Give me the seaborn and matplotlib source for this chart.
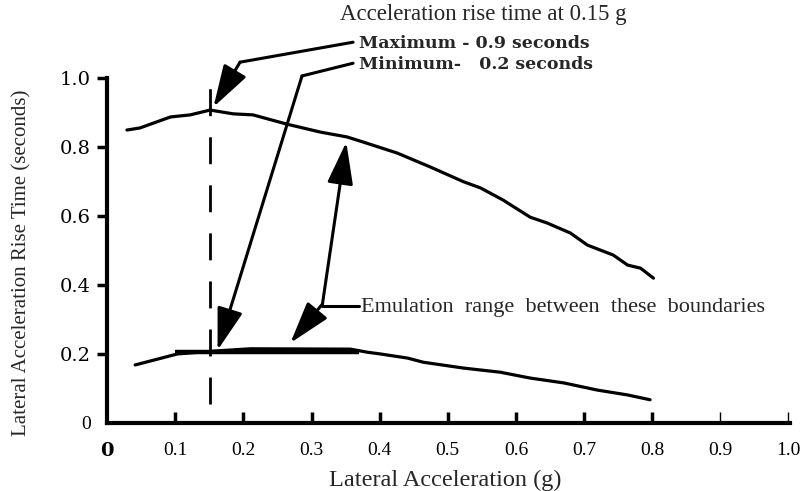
import matplotlib
matplotlib.use("Agg")
import matplotlib.pyplot as plt
import seaborn as sns
import pandas as pd

# ---- data ----
upper_x = [0.029, 0.048, 0.093, 0.122, 0.151, 0.185, 0.214, 0.264, 0.313, 0.352, 0.376, 0.426,
           0.474, 0.523, 0.548, 0.581, 0.621, 0.646, 0.680, 0.705, 0.743, 0.764, 0.783, 0.802]
upper_y = [0.849, 0.855, 0.887, 0.893, 0.907, 0.896, 0.893, 0.866, 0.843, 0.829, 0.814, 0.782,
           0.742, 0.699, 0.681, 0.646, 0.596, 0.579, 0.550, 0.515, 0.486, 0.457, 0.448, 0.419]

lower_x = [0.041, 0.103, 0.162, 0.21, 0.357, 0.382, 0.401, 0.441, 0.464, 0.523, 0.577, 0.621,
           0.670, 0.720, 0.764, 0.797]
lower_y = [0.167, 0.199, 0.208, 0.214, 0.213, 0.204, 0.199, 0.187, 0.175, 0.158, 0.146, 0.129,
           0.115, 0.094, 0.08, 0.066]

band_x = [0.10, 0.37]
band_y = [0.204, 0.204]

marker_x = 0.151
marker_y = [0.055, 0.97]

x_ticks = [0, 0.1, 0.2, 0.3, 0.4, 0.5, 0.6, 0.7, 0.8, 0.9, 1.0]
x_labels = ["0", "0.1", "0.2", "0.3", "0.4", "0.5", "0.6", "0.7", "0.8", "0.9", "1.0"]
y_ticks = [0, 0.2, 0.4, 0.6, 0.8, 1.0]
y_labels = ["0", "0.2", "0.4", "0.6", "0.8", "1.0"]

title_text = "Acceleration rise time at 0.15 g"
max_text = "Maximum - 0.9 seconds"
min_text = "Minimum-   0.2 seconds"
emu_text = "Emulation  range  between  these  boundaries"
x_title = "Lateral Acceleration (g)"
y_title = "Lateral Acceleration Rise Time (seconds)"

sns.set_theme(style="white")
plt.rcParams["font.family"] = ["Liberation Serif", "DejaVu Serif"]

fig = plt.figure(figsize=(8, 4.91), dpi=100)
ax = fig.add_axes([0.134, 0.1395, 0.854, 0.7016])

up = pd.DataFrame({"x": upper_x, "y": upper_y})
lo = pd.DataFrame({"x": lower_x, "y": lower_y})
sns.lineplot(data=up, x="x", y="y", ax=ax, color="black", linewidth=2.3, sort=False)
sns.lineplot(data=lo, x="x", y="y", ax=ax, color="black", linewidth=2.3, sort=False)
ax.plot(band_x, band_y, color="black", linewidth=3.2, solid_capstyle="butt")

# dashed vertical marker at 0.15 g
ax.plot([marker_x, marker_x], marker_y, color="black", linewidth=2.0,
        linestyle=(0, (9.7, 7.6)))

ax.set_xlim(0, 1.003)
ax.set_ylim(0, 1.0)

for s in ["top", "right"]:
    ax.spines[s].set_visible(False)
for s in ["left", "bottom"]:
    ax.spines[s].set_linewidth(3.0)
    ax.spines[s].set_color("black")

ax.set_xticks(x_ticks)
ax.set_xticklabels(x_labels)
ax.set_yticks(y_ticks)
ax.set_yticklabels(y_labels)
ax.tick_params(axis="x", bottom=True, direction="in", length=8, width=2.5, pad=14,
               labelsize=14, colors="black")
ax.tick_params(axis="y", left=True, direction="out", length=7, width=2.5, pad=5,
               labelsize=14, colors="black")
xt = ax.xaxis.get_major_ticks()
xt[0].tick1line.set_visible(False)
for t in xt[-2:]:
    t.tick1line.set_markeredgewidth(1.0)
yt = ax.yaxis.get_major_ticks()
yt[0].tick1line.set_visible(False)
for lab in ax.get_yticklabels():
    if lab.get_text() != "0":
        lab.set_family("DejaVu Serif")
xl = ax.get_xticklabels()
xl[0].set_family("DejaVu Serif")
xl[0].set_fontweight("bold")

ax.set_xlabel("")
ax.set_ylabel("")
fig.text(445 / 800, 1 - 480 / 491, x_title, fontsize=17.5, ha="center", va="center")
fig.text(22 / 800, 1 - 263 / 491, y_title, fontsize=15, ha="center", va="center", rotation=90)

# annotation texts
ax.text(0.342, 1.183, title_text, fontsize=16.5, ha="left", va="center", clip_on=False)
ax.text(0.37, 1.1, max_text, fontsize=12.5, family="DejaVu Serif", fontweight="bold",
        ha="left", va="center", clip_on=False)
ax.text(0.37, 1.04, min_text, fontsize=12.5, family="DejaVu Serif", fontweight="bold",
        ha="left", va="center", clip_on=False)
ax.text(0.372, 0.335, emu_text, fontsize=16, ha="left", va="center", clip_on=False)

arrow_kw = dict(arrowstyle="-|>,head_length=1.3,head_width=0.4", color="black", lw=2.2,
                mutation_scale=20, shrinkA=0, shrinkB=0)

# maximum arrow
ax.plot([0.361, 0.195], [1.104, 1.046], color="black", lw=2.2, clip_on=False, solid_capstyle="round")
ax.annotate("", xy=(0.156, 0.916), xytext=(0.195, 1.046), arrowprops=arrow_kw, annotation_clip=False)
# minimum arrow
ax.plot([0.361, 0.286], [1.043, 1.006], color="black", lw=2.2, clip_on=False, solid_capstyle="round")
ax.annotate("", xy=(0.162, 0.210), xytext=(0.286, 1.006), arrowprops=arrow_kw, annotation_clip=False)
# emulation double arrow
ax.plot([0.316, 0.369], [0.338, 0.338], color="black", lw=2.2)
ax.annotate("", xy=(0.351, 0.814), xytext=(0.316, 0.344), arrowprops=arrow_kw)
ax.annotate("", xy=(0.269, 0.231), xytext=(0.316, 0.344), arrowprops=arrow_kw)

fig.savefig("out.png", dpi=100)
